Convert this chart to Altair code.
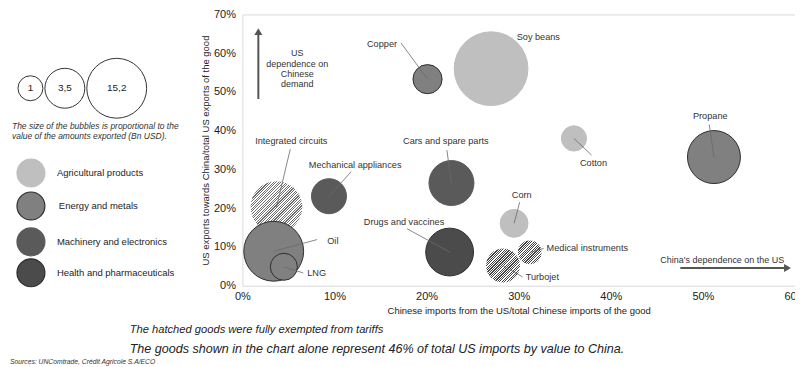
import altair as alt
import pandas as pd

# ---------------- data ----------------
goods = ["Soy beans", "Copper", "Cotton", "Propane", "Corn", "Medical instruments",
         "Turbojet", "Integrated circuits", "Mechanical appliances",
         "Cars and spare parts", "Drugs and vaccines", "Oil", "LNG"]
categories = ["Agricultural products", "Energy and metals", "Agricultural products",
              "Energy and metals", "Agricultural products", "Health and pharmaceuticals",
              "Machinery and electronics", "Machinery and electronics",
              "Machinery and electronics", "Machinery and electronics",
              "Health and pharmaceuticals", "Energy and metals", "Energy and metals"]
china_import_share = [0.270, 0.201, 0.360, 0.512, 0.295, 0.312, 0.283, 0.037, 0.094,
                      0.227, 0.225, 0.034, 0.045]
us_export_share = [0.560, 0.533, 0.380, 0.332, 0.161, 0.086, 0.052, 0.203, 0.231,
                   0.265, 0.087, 0.089, 0.049]
exports_bn = [23.1, 3.6, 2.7, 11.9, 3.3, 2.4, 4.9, 11.4, 5.2, 8.6, 9.7, 15.2, 3.1]
hatched = [False, False, False, False, False, True, True, True, False, False, False,
           False, False]

category_names = ["Agricultural products", "Energy and metals",
                  "Machinery and electronics", "Health and pharmaceuticals"]
size_keys = ["1", "3,5", "15,2"]
size_key_values = [1, 3.5, 15.2]
x_ticks = [0, 0.1, 0.2, 0.3, 0.4, 0.5, 0.6]
y_ticks = [0, 0.1, 0.2, 0.3, 0.4, 0.5, 0.6, 0.7]

# annotation placement (data units)
label_pos = {
    "Soy beans": (0.2978, 0.6416, "left"),
    "Copper": (0.1679, 0.6239, "right"),
    "Propane": (0.5080, 0.4387, "center"),
    "Cotton": (0.3812, 0.3170, "center"),
    "Corn": (0.3033, 0.2333, "center"),
    "Medical instruments": (0.3303, 0.0964, "left"),
    "Turbojet": (0.3076, 0.0228, "left"),
    "Integrated circuits": (0.0531, 0.3728, "center"),
    "Mechanical appliances": (0.1224, 0.3119, "center"),
    "Cars and spare parts": (0.2209, 0.3728, "center"),
    "Drugs and vaccines": (0.1755, 0.1648, "center"),
    "Oil": (0.0921, 0.1167, "left"),
    "LNG": (0.0704, 0.0330, "left"),
}
leader_end = {
    "Copper": (0.1722, 0.6264),
    "Propane": (0.5069, 0.4159),
    "Cotton": (0.3791, 0.3373),
    "Corn": (0.3011, 0.2156),
    "Medical instruments": (0.3271, 0.0964),
    "Turbojet": (0.3043, 0.0228),
    "Integrated circuits": (0.0520, 0.3525),
    "Mechanical appliances": (0.1181, 0.2942),
    "Cars and spare parts": (0.2220, 0.3500),
    "Drugs and vaccines": (0.1787, 0.1471),
    "Oil": (0.0812, 0.1192),
    "LNG": (0.0661, 0.0330),
}

# ---------------- styles ----------------
FONT = "Liberation Sans"
W, H = 554, 272
PAD = {"left": 235, "top": 6, "right": 0, "bottom": 81}
fill_range = ["#bfbfbf", "#808080", "#5a5a5a", "#4b4b4b"]
stroke_range = ["#bfbfbf", "#2e2e2e", "#5a5a5a", "#2e2e2e"]


def px_x(rel):
    return rel / W * 0.6


def px_y(rel):
    return (H - rel) / H * 0.7


xscale = alt.Scale(domain=[0, 0.6], nice=False, zero=False)
yscale = alt.Scale(domain=[0, 0.7], nice=False, zero=False)
xaxis = alt.Axis(values=x_ticks, format="%",
                 title="Chinese imports from the US/total Chinese imports of the good",
                 labelPadding=5, titlePadding=4, labelFlush=False)
yaxis = alt.Axis(values=y_ticks, format="%",
                 title="US exports towards China/total US exports of the good",
                 labelPadding=7, titlePadding=3, labelFlush=False)


def X(f):
    return alt.X(f"{f}:Q", scale=xscale, axis=xaxis)


def Y(f):
    return alt.Y(f"{f}:Q", scale=yscale, axis=yaxis)


size_enc = alt.Size("value:Q", scale=alt.Scale(domain=[0, 25], range=[0, 25 / 15.2 * 3600]),
                    legend=None)
fill_enc = alt.Fill("category:N", scale=alt.Scale(domain=category_names, range=fill_range),
                    legend=None)
stroke_enc = alt.Stroke("category:N",
                        scale=alt.Scale(domain=category_names, range=stroke_range),
                        legend=None)


def hatch(n, dark, duty):
    stops = []
    for i in range(n):
        a = i / n
        b = (i + duty) / n
        c = (i + 1) / n
        stops += [{"offset": a, "color": dark}, {"offset": b, "color": dark},
                  {"offset": b, "color": "#ffffff"}, {"offset": c, "color": "#ffffff"}]
    return {"gradient": "linear", "x1": 0, "y1": 0, "x2": 1, "y2": 1, "stops": stops}


bub = pd.DataFrame({"good": goods, "category": categories, "x": china_import_share,
                    "y": us_export_share, "value": exports_bn, "hatched": hatched})


def hatched_layer(name, n, dark, duty):
    return alt.Chart(bub).transform_filter(alt.datum.good == name).mark_circle(
        opacity=1, fill=hatch(n, dark, duty), strokeWidth=0
    ).encode(x=X("x"), y=Y("y"), size=size_enc)


solid = alt.Chart(bub).transform_filter("!datum.hatched").mark_circle(
    opacity=1, strokeWidth=1
).encode(x=X("x"), y=Y("y"), size=size_enc, fill=fill_enc, stroke=stroke_enc)

# leader lines
lead_rows = []
for g, (ex, ey) in leader_end.items():
    i = goods.index(g)
    lead_rows.append({"x": china_import_share[i], "y": us_export_share[i], "x2": ex, "y2": ey})
leaders = alt.Chart(pd.DataFrame(lead_rows)).mark_rule(color="#6a6a6a", strokeWidth=0.8).encode(
    x=X("x"), y=Y("y"), x2="x2:Q", y2="y2:Q")

# labels
lab_df = pd.DataFrame([{"good": g, "x": p[0], "y": p[1], "align": p[2]} for g, p in label_pos.items()])
label_layers = []
for al in ["left", "center", "right"]:
    label_layers.append(
        alt.Chart(lab_df).transform_filter(alt.datum.align == al).mark_text(
            align=al, baseline="middle", fontSize=9.2, color="#333333", font=FONT
        ).encode(x=X("x"), y=Y("y"), text="good:N"))

# arrows + arrow texts
varrow = alt.Chart(pd.DataFrame([{"x": 0.0173, "y": 0.4819, "y2": 0.6569}])).mark_rule(
    color="#555555", strokeWidth=2).encode(x=X("x"), y=Y("y"), y2="y2:Q")
varrow_head = alt.Chart(pd.DataFrame([{"x": 0.0173, "y": 0.6556}])).mark_point(
    shape="triangle-up", filled=True, size=64, color="#555555", opacity=1).encode(x=X("x"), y=Y("y"))
harrow = alt.Chart(pd.DataFrame([{"x": 0.4755, "x2": 0.5900, "y": 0.0457}])).mark_rule(
    color="#555555", strokeWidth=2).encode(x=X("x"), x2="x2:Q", y=Y("y"))
harrow_head = alt.Chart(pd.DataFrame([{"x": 0.5919, "y": 0.0457}])).mark_point(
    shape="triangle-right", filled=True, size=64, color="#555555", opacity=1).encode(x=X("x"), y=Y("y"))

us_dep = pd.DataFrame({"t": ["US", "dependence on", "Chinese", "demand"],
                       "x": [0.0596] * 4, "y": [0.5998, 0.5732, 0.5466, 0.5199]})
us_dep_text = alt.Chart(us_dep).mark_text(align="center", baseline="middle", fontSize=9,
                                          color="#333333", font=FONT).encode(
    x=X("x"), y=Y("y"), text="t:N")
cn_dep_text = alt.Chart(pd.DataFrame([{"t": "China's dependence on the US", "x": 0.4538,
                                       "y": 0.0659}])).mark_text(
    align="left", baseline="middle", fontSize=9, color="#333333", font=FONT).encode(
    x=X("x"), y=Y("y"), text="t:N")

# size legend
key_df = pd.DataFrame({"key": size_keys, "v": size_key_values,
                       "x": [px_x(-212.5), px_x(-178), px_x(-126)],
                       "y": [px_y(74), px_y(74), px_y(74)]})
key_circles = alt.Chart(key_df).mark_circle(opacity=1, fill="white", stroke="#333333",
                                            strokeWidth=1).encode(
    x=X("x"), y=Y("y"),
    size=alt.Size("v:Q", scale=alt.Scale(domain=size_key_values, range=[625, 1600, 3600]),
                  legend=None))
key_text = alt.Chart(key_df).mark_text(fontSize=10, color="#222222", font=FONT,
                                       baseline="middle", align="center").encode(
    x=X("x"), y=Y("y"), text="key:N")
cap_df = pd.DataFrame({"t": ["The size of the bubbles is proportional to the",
                             "value of the amounts exported (Bn USD)."],
                       "x": [px_x(-231)] * 2, "y": [px_y(112), px_y(122)]})
caption = alt.Chart(cap_df).mark_text(align="left", baseline="middle", fontSize=8.5,
                                      fontStyle="italic", color="#333333", font=FONT).encode(
    x=X("x"), y=Y("y"), text="t:N")

# category legend
cat_df = pd.DataFrame({"category": category_names,
                       "x": [px_x(-212)] * 4,
                       "lx": [px_x(-186), px_x(-184), px_x(-186), px_x(-186)],
                       "y": [px_y(159), px_y(192), px_y(228), px_y(259)]})
cat_circles = alt.Chart(cat_df).mark_circle(opacity=1, size=784, strokeWidth=1.2).encode(
    x=X("x"), y=Y("y"), fill=fill_enc, stroke=stroke_enc)
cat_text = alt.Chart(cat_df).mark_text(align="left", baseline="middle", fontSize=9.5,
                                       color="#222222", font=FONT).encode(
    x=X("lx"), y=Y("y"), text="category:N")

# footnotes
foot1 = alt.Chart(pd.DataFrame([{"t": "The hatched goods were fully exempted from tariffs",
                                 "x": px_x(-113), "y": px_y(316)}])).mark_text(
    align="left", baseline="middle", fontSize=11.2, fontStyle="italic", color="#222222",
    font=FONT).encode(x=X("x"), y=Y("y"), text="t:N")
foot2 = alt.Chart(pd.DataFrame([{"t": "The goods shown in the chart alone represent 46% of total US imports by value to China.",
                                 "x": px_x(-113), "y": px_y(335)}])).mark_text(
    align="left", baseline="middle", fontSize=12.6, fontStyle="italic", color="#222222",
    font=FONT).encode(x=X("x"), y=Y("y"), text="t:N")
src = alt.Chart(pd.DataFrame([{"t": "Sources: UNComtrade, Crédit Agricole S.A/ECO",
                               "x": px_x(-233), "y": px_y(348)}])).mark_text(
    align="left", baseline="middle", fontSize=6.8, fontStyle="italic", color="#333333",
    font=FONT).encode(x=X("x"), y=Y("y"), text="t:N")

layers = [hatched_layer("Integrated circuits", 40, "#707070", 0.45), solid,
          hatched_layer("Turbojet", 28, "#444444", 0.5),
          hatched_layer("Medical instruments", 20, "#444444", 0.5),
          leaders] + label_layers + [varrow, varrow_head, harrow, harrow_head, us_dep_text,
                                     cn_dep_text, key_circles, key_text, caption,
                                     cat_circles, cat_text, foot1, foot2, src]

chart = alt.layer(*layers).resolve_scale(size="independent").properties(
    width=W, height=H, padding=PAD, autosize=alt.AutoSizeParams(type="none")
).configure(font=FONT).configure_view(stroke="#d9d9d9", strokeWidth=1).configure_axis(
    domain=False, ticks=False, grid=False, labelFont=FONT, labelFontSize=11,
    labelColor="#222222", titleFont=FONT, titleFontSize=9.5, titleFontWeight="normal",
    titleColor="#222222"
)

chart.save("out.html", embed_options={"renderer": "svg", "actions": False})
